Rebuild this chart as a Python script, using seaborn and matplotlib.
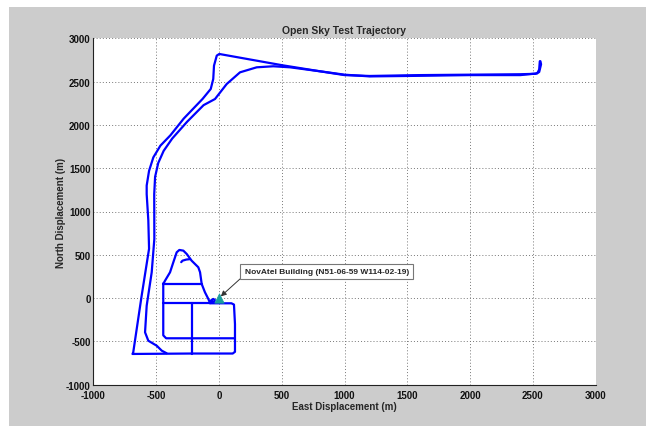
import numpy as np
import pandas as pd
import matplotlib
matplotlib.use("Agg")
import matplotlib.pyplot as plt
import seaborn as sns
from matplotlib.patches import Rectangle

# ---- data (metres) ----
path_a_x = [2560, 2565, 2550, 2520, 2400, 2000, 1600, 1200, 1000, 800, 500, 3,
            -17, -39, -45, -65, -130, -280, -386, -466, -522, -556, -575, -575,
            -562, -556, -615, -682, -688, -217]
path_a_y = [2735, 2700, 2610, 2590, 2585, 2580, 2575, 2565, 2575, 2620, 2690, 2819,
            2800, 2684, 2530, 2415, 2300, 2073, 1880, 1760, 1625, 1470, 1300, 1200,
            900, 570, 28, -626, -645, -640]

path_b_x = [2555, 2550, 2535, 2400, 2000, 1500, 1200, 1000, 831, 566, 433, 301,
            168, 62, -31, -122, -254, -372, -440, -483, -508, -515, -514, -535, -575,
            -588, -562, -495, -455, -416]
path_b_y = [2735, 2640, 2595, 2575, 2575, 2565, 2560, 2580, 2614, 2665, 2677, 2665,
            2607, 2472, 2299, 2228, 2035, 1842, 1700, 1560, 1400, 1200, 683, 298, -88,
            -395, -492, -550, -607, -637]

box_x = [-71, 100, 120, 128, 128, 110, -217]
box_y = [-60, -60, -75, -300, -620, -640, -640]

h2_x = [-443, -71]
h2_y = [-60, -60]

v1_x = [-443, -443, -420, 125]
v1_y = [170, -430, -464, -464]

v2_x = [-217, -217]
v2_y = [-60, -640]

h1_x = [-443, -137]
h1_y = [163, 163]

loop_x = [-443, -429, -389, -363, -336, -315, -283, -256, -217, -164, -150, -137,
          -111, -84, -71]
loop_y = [163, 201, 298, 413, 529, 556, 548, 509, 432, 356, 298, 163,
          67, -10, -57]

hook_x = [-300, -290, -260, -230]
hook_y = [415, 432, 445, 450]

circ_x = [-71, -60, -45, -32, -38, -55, -62]
circ_y = [-57, -25, -10, -22, -42, -45, -30]

building_x = [0]
building_y = [0]
building_label = "NovAtel Building (N51-06-59 W114-02-19)"

x_ticks = [-1000, -500, 0, 500, 1000, 1500, 2000, 2500, 3000]
y_ticks = [-1000, -500, 0, 500, 1000, 1500, 2000, 2500, 3000]

segments = {
    "a": (path_a_x, path_a_y), "b": (path_b_x, path_b_y), "box": (box_x, box_y),
    "h2": (h2_x, h2_y), "v1": (v1_x, v1_y), "v2": (v2_x, v2_y), "h1": (h1_x, h1_y),
    "loop": (loop_x, loop_y), "hook": (hook_x, hook_y), "circ": (circ_x, circ_y),
}
rows = []
for name, (xs, ys) in segments.items():
    for i, (xv, yv) in enumerate(zip(xs, ys)):
        rows.append({"seg": name, "order": i, "x": xv, "y": yv})
df = pd.DataFrame(rows)

# ---- figure ----
sns.set_style("white")
font = ["Liberation Sans Narrow", "Liberation Sans", "DejaVu Sans"]
plt.rcParams["font.family"] = font
plt.rcParams["font.weight"] = "bold"

W, H = 646, 427
fig = plt.figure(figsize=(W / 100, H / 100), dpi=100, facecolor="white")
fig.patches.append(Rectangle((9 / W, 0), 1, 1 - 8 / H, transform=fig.transFigure,
                             facecolor="#cccccc", edgecolor="none", zorder=-10))

ax = fig.add_axes([93.3 / W, 1 - 385.7 / H, (595.7 - 93.3) / W, (385.7 - 39.3) / H])
ax.set_facecolor("white")

sns.lineplot(data=df, x="x", y="y", units="seg", estimator=None, sort=False,
             color="#0000ff", linewidth=1.6, ax=ax, legend=False)
sns.scatterplot(x=building_x, y=building_y, marker="^", s=45, color="#1a9e9e",
                edgecolor="#1a9e9e", ax=ax, zorder=5)

ax.annotate(building_label, xy=(15, 20), xytext=(205, 310), textcoords="data",
            fontsize=6, fontweight="bold", ha="left", va="center",
            bbox=dict(boxstyle="square,pad=0.5", fc="white", ec="#777777", lw=0.8),
            arrowprops=dict(arrowstyle="-|>", color="#333333", lw=0.7,
                            mutation_scale=8, relpos=(0, 0), shrinkA=0, shrinkB=0))

ax.set_xlim(-1000, 3000)
ax.set_ylim(-1000, 3000)
ax.set_xticks(x_ticks)
ax.set_yticks(y_ticks)
ax.set_xticklabels([str(v) for v in x_ticks], fontsize=7, fontweight="bold")
ax.set_yticklabels([str(v) for v in y_ticks], fontsize=7, fontweight="bold")
ax.tick_params(direction="in", length=3, width=0.6, colors="#111111")
ax.tick_params(axis="x", pad=3.5)
ax.tick_params(axis="y", pad=2)
ax.grid(True, linestyle=(0, (1, 2.2)), color="#777777", linewidth=0.7)
for side in ["top", "right"]:
    ax.spines[side].set_visible(False)
for side in ["left", "bottom"]:
    ax.spines[side].set_color("#222222")
    ax.spines[side].set_linewidth(0.8)

ax.set_title("Open Sky Test Trajectory", fontsize=7.5, fontweight="bold", pad=4)
ax.set_xlabel("East Displacement (m)", fontsize=7, fontweight="bold", labelpad=1)
ax.set_ylabel("North Displacement (m)", fontsize=7, fontweight="bold", labelpad=0)

fig.savefig("out.png", dpi=100, facecolor=fig.get_facecolor())
